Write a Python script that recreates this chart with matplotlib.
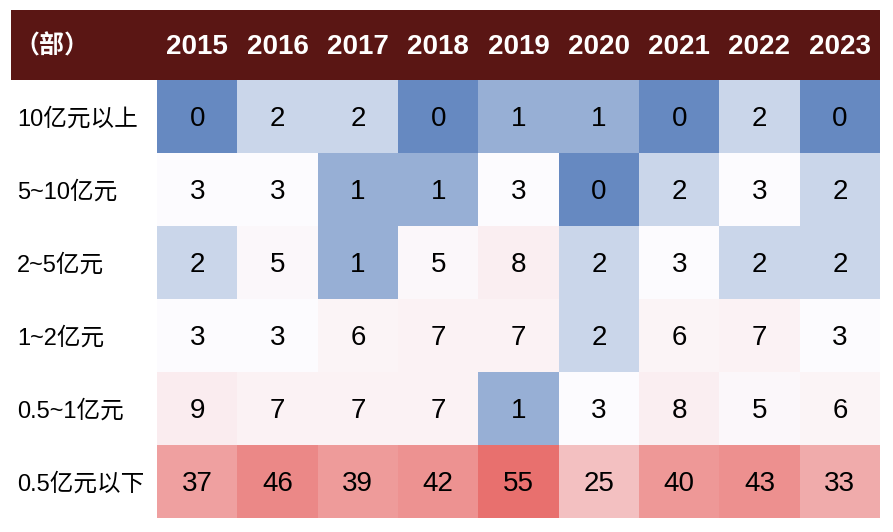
import numpy as np
import matplotlib
matplotlib.use("Agg")
import matplotlib.pyplot as plt
import matplotlib.transforms as mtrans
from matplotlib.colors import LinearSegmentedColormap, TwoSlopeNorm
from matplotlib.patches import Rectangle
from matplotlib import font_manager

years = ["2015", "2016", "2017", "2018", "2019", "2020", "2021", "2022", "2023"]
categories = ["10亿元以上", "5~10亿元", "2~5亿元", "1~2亿元", "0.5~1亿元", "0.5亿元以下"]
row_10plus = [0, 2, 2, 0, 1, 1, 0, 2, 0]
row_5_10 = [3, 3, 1, 1, 3, 0, 2, 3, 2]
row_2_5 = [2, 5, 1, 5, 8, 2, 3, 2, 2]
row_1_2 = [3, 3, 6, 7, 7, 2, 6, 7, 3]
row_05_1 = [9, 7, 7, 7, 1, 3, 8, 5, 6]
row_below05 = [37, 46, 39, 42, 55, 25, 40, 43, 33]
unit_label = "（部）"

values = np.array([row_10plus, row_5_10, row_2_5, row_1_2, row_05_1, row_below05])

names = {f.name for f in font_manager.fontManager.ttflist}
narrow = "Liberation Sans Narrow" if "Liberation Sans Narrow" in names else "Liberation Sans"
fam = [narrow, "Noto Sans CJK SC", "DejaVu Sans"]
plt.rcParams["font.family"] = fam

W, H = 893, 532
fig = plt.figure(figsize=(W / 100, H / 100), dpi=100)

def fx(px):
    return px / W

def fy(py):
    return 1 - py / H

x0, x1 = 157, 880
y_top, y_bot = 80, 518
ax = fig.add_axes([fx(x0), fy(y_bot), fx(x1) - fx(x0), fy(y_top) - fy(y_bot)])

cmap = LinearSegmentedColormap.from_list("bwr_xl", ["#6689C1", "#FCFCFF", "#E8706E"])
norm = TwoSlopeNorm(vmin=values.min(), vcenter=np.percentile(values, 50), vmax=values.max())
ax.pcolormesh(np.arange(len(years) + 1) - 0.5, np.arange(len(categories) + 1) - 0.5,
              values, cmap=cmap, norm=norm, shading="flat")
ax.set_xlim(-0.5, len(years) - 0.5)
ax.set_ylim(len(categories) - 0.5, -0.5)
ax.axis("off")

for i in range(len(categories)):
    for j in range(len(years)):
        ax.text(j, i + 0.04, str(values[i, j]), ha="center", va="center", fontsize=20,
                color="black", family=fam)

# row labels
row_h = (y_bot - y_top) / len(categories)
for i, c in enumerate(categories):
    yc = y_top + (i + 0.5) * row_h + 3
    fig.text(fx(17), fy(yc), c, ha="left", va="center", fontsize=17, color="black", family=fam)

# header band (drawn beneath the axes content)
fig.add_artist(Rectangle((fx(11), fy(80)), fx(880) - fx(11), fy(10) - fy(80),
                         transform=fig.transFigure, color="#5A1614", lw=0, zorder=-5))
trans = mtrans.blended_transform_factory(ax.transData, fig.transFigure)
for j, yr in enumerate(years):
    ax.text(j, fy(47), yr, transform=trans, ha="center", va="center", fontsize=20,
            fontweight="bold", color="white", family=fam, clip_on=False)
fig.text(fx(14), fy(46), unit_label, ha="left", va="center", fontsize=18,
         fontweight="bold", color="white", family=["Noto Sans CJK SC", "DejaVu Sans"])

fig.savefig("out.png", dpi=100, facecolor="white")
